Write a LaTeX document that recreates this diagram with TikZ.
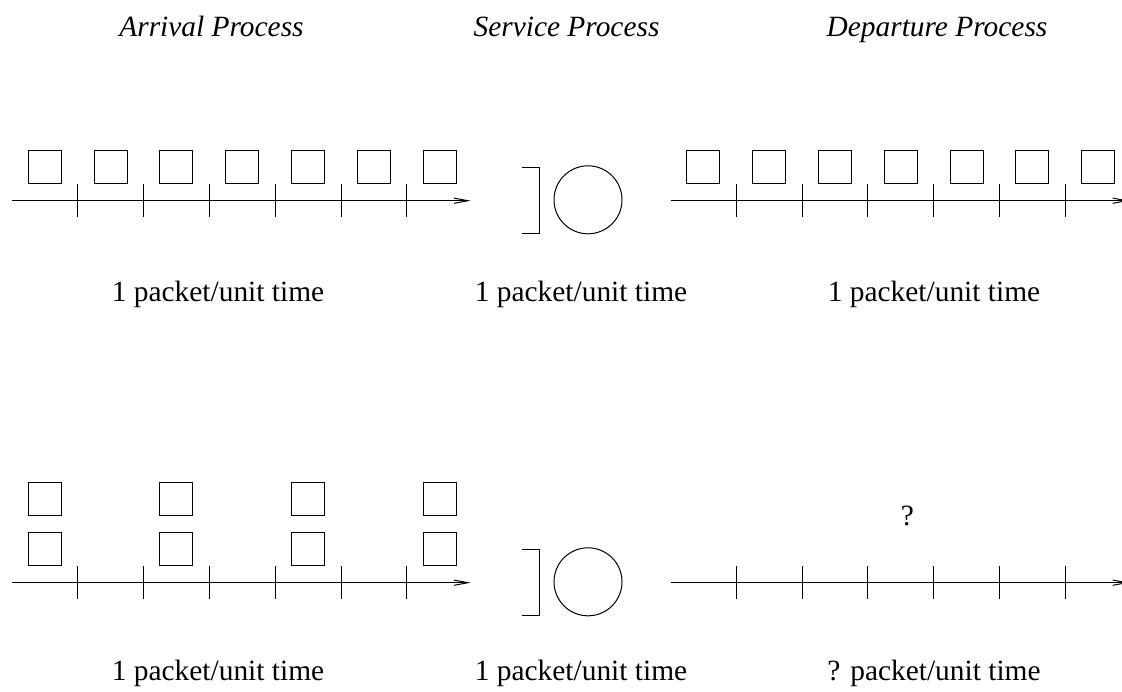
\documentclass[tikz,border=0pt]{standalone}
\usepackage{fontspec}
\setmainfont{Liberation Serif}
\usetikzlibrary{arrows.meta}

\begin{document}
\begin{tikzpicture}[
  x=0.5pt,
  y=-0.5pt,
  line width=0.5pt,
  packet/.style={draw=black, minimum size=16.5pt, inner sep=0pt},
  server/.style={draw=black, circle, minimum size=34pt, inner sep=0pt},
  timeline/.style={-{Straight Barb[length=7pt, width=2.6pt]}},
  heading/.style={font=\fontsize{14.7}{17}\selectfont\itshape, anchor=base, inner sep=0pt},
  rate/.style={font=\fontsize{14.7}{17}\selectfont, anchor=base, inner sep=0pt}
]
\useasboundingbox (0,0) rectangle (1122,691);

\node[heading] (arrtitle) at (211.5,36) {Arrival Process};
\node[heading] (srvtitle) at (566.5,36) {Service Process};
\node[heading] (deptitle) at (937,36) {Departure Process};

% upper case: evenly spaced arrivals
\foreach \i in {1,...,7}
  \node[packet] (a\i) at ({44.8+65.83*(\i-1)},167.2) {};
\coordinate (astart) at (12,200.7);
\coordinate (aend) at (470.7,200.7);
\draw[timeline] (astart) -- (aend);
\foreach \k in {1,...,6}
  \draw ({77.7+65.83*(\k-1)},184) -- ++(0,32.7);

\node[server] (srv1) at (588,199.8) {};
\draw (522.3,167.3) -- (539,167.3) -- (539,233.3) -- (522.3,233.3);

\foreach \i in {1,...,7}
  \node[packet] (d\i) at ({703.2+65.83*(\i-1)},167.2) {};
\coordinate (dstart) at (670.7,200.7);
\coordinate (dend) at (1129.4,200.7);
\draw[timeline] (dstart) -- (dend);
\foreach \k in {1,...,6}
  \draw ({736.3+65.83*(\k-1)},184) -- ++(0,32.7);

\node[rate] (arate1) at (218,301) {1 packet/unit time};
\node[rate] (srate1) at (581,301) {1 packet/unit time};
\node[rate] (drate1) at (934,301) {1 packet/unit time};

% lower case: bursts of two
\foreach \i in {1,3,5,7} {
  \node[packet] (bu\i) at ({44.8+65.83*(\i-1)},499.3) {};
  \node[packet] (bl\i) at ({44.8+65.83*(\i-1)},549.3) {};
}
\coordinate (bstart) at (12,582.7);
\coordinate (bend) at (470.7,582.7);
\draw[timeline] (bstart) -- (bend);
\foreach \k in {1,...,6}
  \draw ({77.7+65.83*(\k-1)},566.4) -- ++(0,32.7);

\node[server] (srv2) at (588,581.8) {};
\draw (522.3,549.3) -- (539,549.3) -- (539,615.3) -- (522.3,615.3);

\coordinate (estart) at (670.7,582.7);
\coordinate (eend) at (1129.4,582.7);
\draw[timeline] (estart) -- (eend);
\foreach \k in {1,...,6}
  \draw ({736.3+65.83*(\k-1)},566.4) -- ++(0,32.7);
\node[rate] (unknown) at (907.5,525) {?};

\node[rate] (arate2) at (218,680) {1 packet/unit time};
\node[rate] (srate2) at (581,680) {1 packet/unit time};
\node[rate] (drate2) at (934,680) {? packet/unit time};
\end{tikzpicture}
\end{document}
